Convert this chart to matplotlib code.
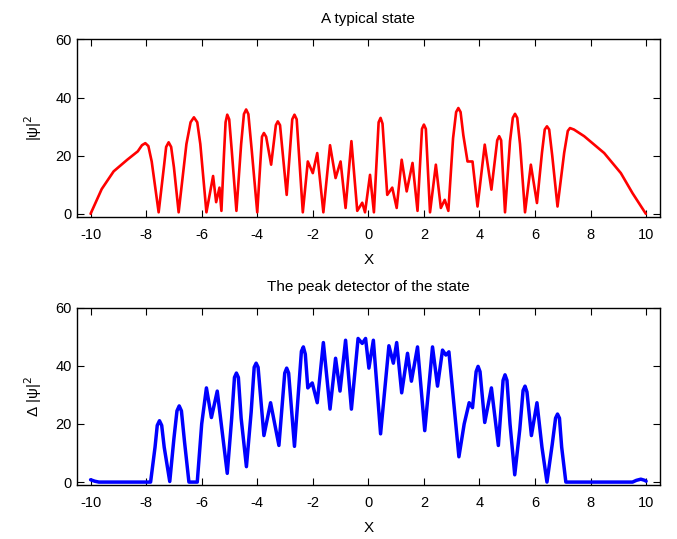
import matplotlib.pyplot as plt

plt.rcParams['font.family'] = ['Liberation Sans', 'DejaVu Sans']
plt.rcParams['axes.unicode_minus'] = False

# top panel: a typical state |psi|^2
state_x = [-10.0, -9.6, -9.17, -8.68, -8.3, -8.15, -8.03, -7.92, -7.8, -7.55, -7.35, -7.28,
           -7.19, -7.1, -7.0, -6.83, -6.55, -6.4, -6.28, -6.16, -6.05, -5.83, -5.59, -5.48,
           -5.36, -5.29, -5.2, -5.14, -5.08, -5.01, -4.92, -4.75, -4.58, -4.48, -4.40, -4.32,
           -4.2, -4.0, -3.83, -3.76, -3.68, -3.50, -3.33, -3.26, -3.18, -2.94, -2.74, -2.66,
           -2.58, -2.36, -2.18, -2.0, -1.84, -1.62, -1.38, -1.18, -1.0, -0.82, -0.61, -0.40,
           -0.22, -0.12, 0.06, 0.20, 0.37, 0.44, 0.51, 0.68, 0.86, 1.02, 1.20, 1.38, 1.59,
           1.77, 1.93, 2.0, 2.07, 2.22, 2.43, 2.61, 2.75, 2.88, 3.05, 3.16, 3.24, 3.32, 3.42,
           3.57, 3.75, 3.93, 4.19, 4.43, 4.64, 4.71, 4.78, 4.92, 5.1, 5.2, 5.28, 5.36, 5.46,
           5.64, 5.85, 6.07, 6.25, 6.35, 6.43, 6.51, 6.62, 6.81, 7.05, 7.18, 7.26, 7.4, 7.77,
           8.49, 9.09, 9.51, 9.99]
state_y = [0.0, 8.5, 14.6, 18.6, 21.5, 23.6, 24.3, 23.3, 18.0, 0.5, 17.0, 23.0,
           24.6, 23.0, 16.0, 0.5, 24.0, 31.5, 33.2, 31.5, 24.0, 0.5, 13.0, 4.0,
           9.0, 1.0, 20.0, 31.5, 34.1, 32.5, 22.0, 1.0, 24.0, 34.3, 35.9, 34.3,
           22.0, 0.5, 26.5, 27.8, 26.5, 16.9, 30.5, 31.8, 30.5, 6.5, 32.5, 34.1,
           32.5, 0.5, 18.0, 14.0, 20.9, 0.5, 23.6, 12.3, 18.0, 2.0, 25.0, 1.0,
           3.8, 0.5, 13.4, 0.5, 31.5, 33.0, 31.0, 6.5, 9.0, 2.0, 18.6, 7.7, 17.5,
           1.0, 29.2, 30.7, 29.2, 0.5, 16.9, 2.0, 4.8, 1.0, 26.0, 35.0, 36.4, 35.0, 27.0,
           18.0, 18.0, 2.5, 23.8, 8.3, 25.3, 26.7, 25.3, 0.5, 25.0, 33.0, 34.4, 33.0, 24.0,
           0.5, 16.9, 3.7, 21.0, 29.0, 30.1, 29.0, 20.0, 2.5, 21.0, 28.5, 29.5, 29.0, 26.7,
           20.9, 14.0, 7.1, 0.0]

# bottom panel: the peak detector of the state
peak_x = [-10.0, -9.85, -9.7, -7.84, -7.68, -7.6, -7.52, -7.44, -7.35, -7.15, -7.0, -6.89,
          -6.81, -6.73, -6.62, -6.46, -6.16, -6.0, -5.83, -5.65, -5.44, -5.08, -4.92, -4.82,
          -4.75, -4.68, -4.58, -4.39, -4.22, -4.11, -4.04, -3.97, -3.76, -3.52, -3.22, -3.01,
          -2.94, -2.87, -2.66, -2.41, -2.34, -2.27, -2.18, -2.02, -1.84, -1.62, -1.38, -1.18,
          -1.02, -0.82, -0.61, -0.37, -0.22, -0.10, 0.02, 0.18, 0.44, 0.74, 0.90, 1.02, 1.20,
          1.41, 1.55, 1.77, 2.03, 2.31, 2.49, 2.67, 2.79, 2.90, 3.26, 3.45, 3.63, 3.75, 3.88,
          3.95, 4.02, 4.19, 4.43, 4.68, 4.85, 4.92, 4.99, 5.1, 5.27, 5.45, 5.57, 5.64, 5.71,
          5.87, 6.07, 6.25, 6.43, 6.62, 6.74, 6.81, 6.88, 6.96, 7.11, 9.51, 9.65, 9.81, 9.95,
          10.0]
peak_y = [0.8, 0.3, 0.0, 0.0, 12.0, 19.5, 21.1, 19.5, 12.0, 0.2, 15.0, 24.5,
          26.2, 24.5, 14.0, 0.0, 0.0, 20.0, 32.4, 22.2, 31.3, 3.0, 22.0, 36.0,
          37.5, 36.0, 22.0, 5.3, 24.0, 39.5, 40.9, 39.5, 16.0, 27.3, 12.6, 37.5,
          39.2, 37.5, 12.3, 45.0, 46.5, 44.0, 32.4, 34.1, 27.3, 48.0, 25.1, 42.6,
          31.3, 48.8, 25.1, 49.4, 47.7, 49.4, 39.2, 48.8, 16.6, 46.9, 40.9, 48.0, 30.7,
          44.3, 34.7, 46.5, 17.7, 46.5, 33.0, 45.4, 43.7, 44.8, 8.7, 20.0, 27.3, 25.6, 38.0,
          39.8, 38.0, 20.5, 32.4, 12.6, 35.0, 36.9, 35.0, 20.0, 2.5, 18.0, 31.5, 33.0, 31.0,
          16.0, 27.3, 12.0, 0.0, 13.0, 22.0, 23.4, 22.0, 12.0, 0.0, 0.0, 0.6, 1.0, 0.6,
          0.3]

fig = plt.figure(figsize=(6.77, 5.39), dpi=100)
ax1 = fig.add_axes([0.1133, 0.598, 0.8616, 0.3288])
ax2 = fig.add_axes([0.1133, 0.1002, 0.8616, 0.329])

ax1.plot(state_x, state_y, color='#ff0000', lw=1.9,
         solid_joinstyle='round', solid_capstyle='round')
ax1.set_title('A typical state', fontsize=11, pad=12)
ax1.set_ylabel('|ψ|$^2$', fontsize=11, labelpad=8)

ax2.plot(peak_x, peak_y, color='#0000ff', lw=2.5,
         solid_joinstyle='round', solid_capstyle='round')
ax2.set_title('The peak detector of the state', fontsize=11, pad=12)
ax2.set_ylabel('Δ |ψ|$^2$', fontsize=11, labelpad=8)

for ax in (ax1, ax2):
    ax.set_xlim(-10.5, 10.5)
    ax.set_ylim(-1, 60)
    ax.set_xticks(range(-10, 11, 2))
    ax.set_yticks([0, 20, 40, 60])
    ax.set_xlabel('X', fontsize=11, labelpad=8)
    ax.tick_params(direction='in', top=True, right=True, length=5, labelsize=10.5)
    ax.tick_params(axis='x', pad=8)
    for s in ax.spines.values():
        s.set_linewidth(1.0)

fig.savefig('out.png', dpi=100)
